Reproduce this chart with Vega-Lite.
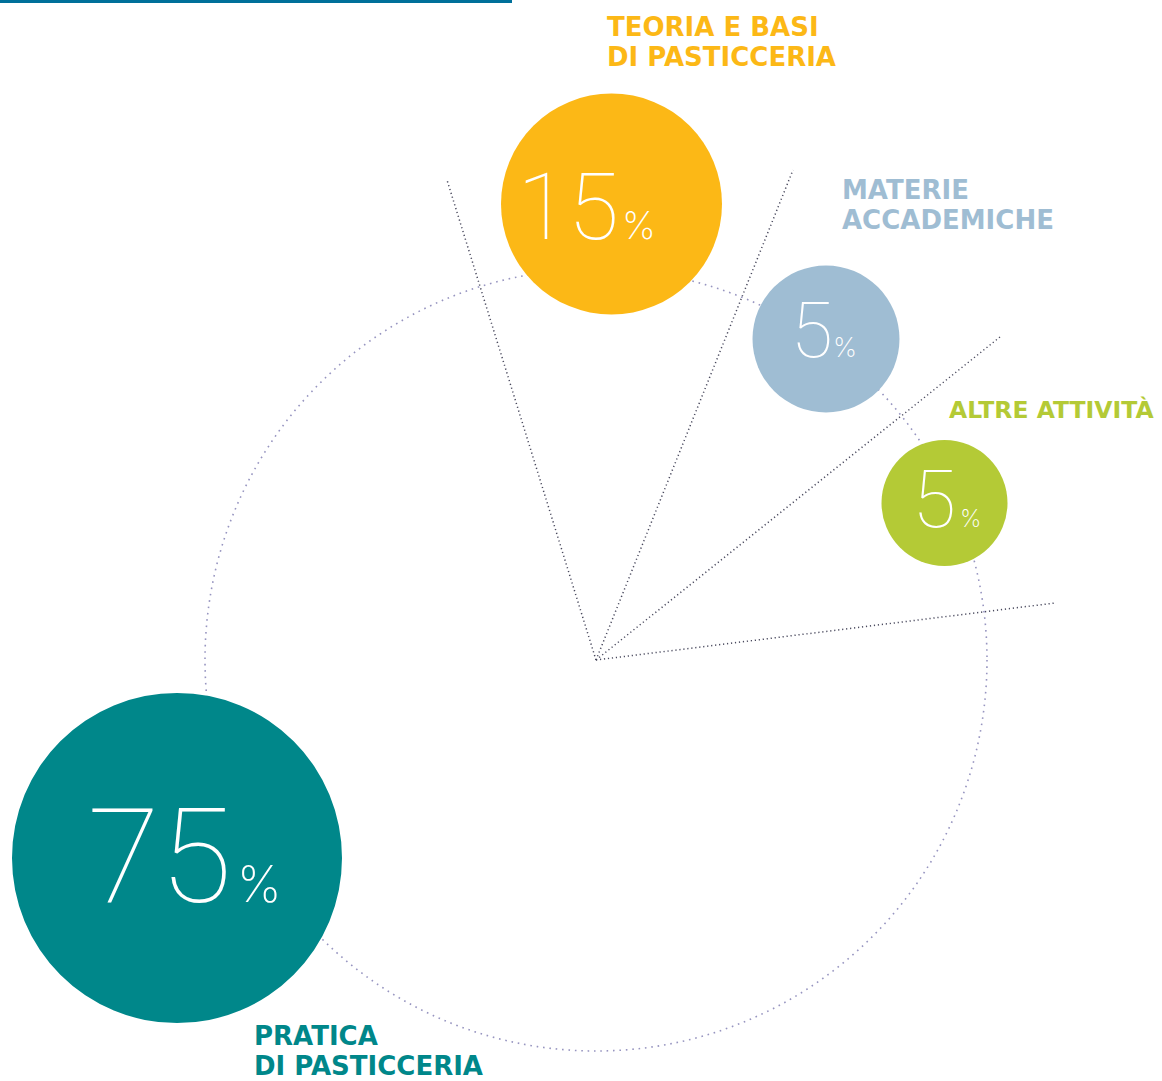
{
  "$schema": "https://vega.github.io/schema/vega-lite/v6.json",
  "width": 1162,
  "height": 1081,
  "padding": 0,
  "autosize": {"type": "none"},
  "background": "white",
  "config": {"view": {"stroke": null}},
  "datasets": {
    "slices": [
      {"cat": "Pratica di pasticceria", "pct": 75, "x": -419, "y": -198, "r": 165, "label": "PRATICA\nDI PASTICCERIA", "lx": -342, "ly": -385, "nx": -364, "ny": -242, "px": -359},
      {"cat": "Teoria e basi di pasticceria", "pct": 15, "x": 15.5, "y": 456, "r": 110.5, "label": "TEORIA E BASI\nDI PASTICCERIA", "lx": 11, "ly": 624, "nx": 23, "ny": 421, "px": 26},
      {"cat": "Materie accademiche", "pct": 5, "x": 230, "y": 321, "r": 73.5, "label": "MATERIE\nACCADEMICHE", "lx": 246, "ly": 461, "nx": 237, "ny": 303, "px": 237},
      {"cat": "Altre attività", "pct": 5, "x": 348.5, "y": 157, "r": 63, "label": "ALTRE ATTIVITÀ", "lx": 353, "ly": 242, "nx": 360, "ny": 133, "px": 364}
    ],
    "rays": [
      {"x": 0, "y": 0, "x2": -149, "y2": 480},
      {"x": 0, "y": 0, "x2": 197, "y2": 490},
      {"x": 0, "y": 0, "x2": 404, "y2": 323},
      {"x": 0, "y": 0, "x2": 459, "y2": 57}
    ],
    "centre": [{"x": 0, "y": 0}],
    "bar": [{"x": -596, "x2": -84, "y": 658.5}]
  },
  "layer": [
    {
      "data": {"name": "bar"},
      "mark": {"type": "rule", "stroke": "#00709a", "strokeWidth": 3},
      "encoding": {
        "x": {"field": "x", "type": "quantitative", "scale": {"domain": [-596, 566], "nice": false, "zero": false}, "axis": null},
        "x2": {"field": "x2"},
        "y": {"field": "y", "type": "quantitative", "scale": {"domain": [-421, 660], "nice": false, "zero": false}, "axis": null}
      }
    },
    {
      "data": {"name": "centre"},
      "mark": {"type": "point", "shape": "circle", "filled": false, "size": 611524, "stroke": "#9795c0", "strokeWidth": 1.6, "strokeDash": [1.6, 4.8], "opacity": 1},
      "encoding": {
        "x": {"field": "x", "type": "quantitative", "axis": null},
        "y": {"field": "y", "type": "quantitative", "axis": null}
      }
    },
    {
      "data": {"name": "rays"},
      "mark": {"type": "rule", "stroke": "#4a4a5e", "strokeWidth": 1.5, "strokeDash": [1.2, 2.8]},
      "encoding": {
        "x": {"field": "x", "type": "quantitative", "axis": null},
        "y": {"field": "y", "type": "quantitative", "axis": null},
        "x2": {"field": "x2"},
        "y2": {"field": "y2"}
      }
    },
    {
      "data": {"name": "slices"},
      "mark": {"type": "point", "shape": "circle", "filled": true, "opacity": 1, "strokeWidth": 0},
      "encoding": {
        "x": {"field": "x", "type": "quantitative", "axis": null},
        "y": {"field": "y", "type": "quantitative", "axis": null},
        "size": {"field": "r", "type": "quantitative", "scale": {"type": "pow", "exponent": 2, "domain": [0, 165], "range": [0, 108900]}, "legend": null},
        "color": {"field": "cat", "type": "nominal", "scale": {"domain": ["Pratica di pasticceria", "Teoria e basi di pasticceria", "Materie accademiche", "Altre attività"], "range": ["#00878a", "#fcb816", "#9fbdd3", "#b4ca36"]}, "legend": null}
      }
    },
    {
      "data": {"name": "slices"},
      "mark": {"type": "text", "align": "left", "baseline": "alphabetic", "font": "DejaVu Sans", "fontWeight": "bold", "lineBreak": "\n", "lineHeight": 30},
      "encoding": {
        "x": {"field": "lx", "type": "quantitative", "axis": null},
        "y": {"field": "ly", "type": "quantitative", "axis": null},
        "text": {"field": "label"},
        "color": {"field": "cat", "type": "nominal", "legend": null},
        "size": {"condition": {"test": "datum.cat === 'Altre attività'", "value": 23.5}, "value": 26}
      }
    },
    {
      "data": {"name": "slices"},
      "mark": {"type": "text", "align": "right", "baseline": "alphabetic", "font": "Roboto", "fontWeight": 100, "fill": "white"},
      "encoding": {
        "x": {"field": "nx", "type": "quantitative", "axis": null},
        "y": {"field": "ny", "type": "quantitative", "axis": null},
        "text": {"field": "pct", "type": "quantitative"},
        "size": {"condition": [
          {"test": "datum.cat === 'Pratica di pasticceria'", "value": 132},
          {"test": "datum.cat === 'Teoria e basi di pasticceria'", "value": 93},
          {"test": "datum.cat === 'Materie accademiche'", "value": 77}
        ], "value": 80}
      }
    },
    {
      "data": {"name": "slices"},
      "mark": {"type": "text", "align": "left", "baseline": "alphabetic", "font": "Inter", "fontWeight": 200, "fill": "white", "text": "%"},
      "encoding": {
        "x": {"field": "px", "type": "quantitative", "axis": null},
        "y": {"field": "ny", "type": "quantitative", "axis": null},
        "size": {"condition": [
          {"test": "datum.cat === 'Pratica di pasticceria'", "value": 50},
          {"test": "datum.cat === 'Teoria e basi di pasticceria'", "value": 38},
          {"test": "datum.cat === 'Materie accademiche'", "value": 27}
        ], "value": 24}
      }
    }
  ]
}
